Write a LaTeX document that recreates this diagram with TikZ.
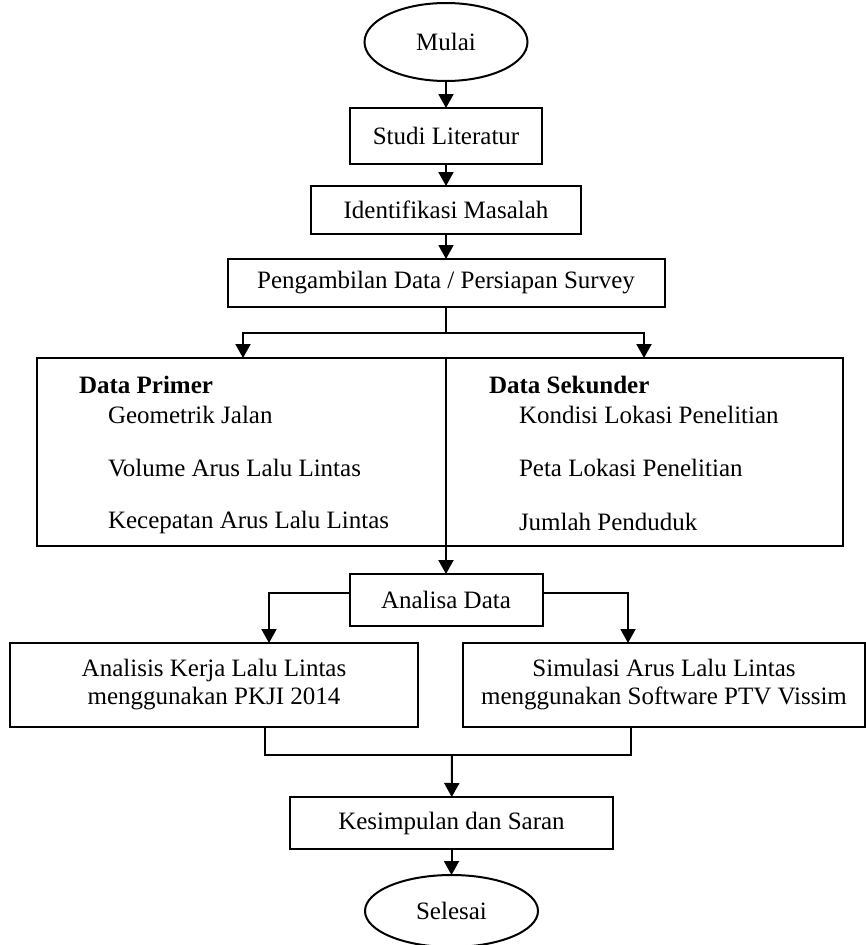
\documentclass[tikz,border=0pt]{standalone}
\usepackage{fontspec}
\setmainfont{Liberation Serif}
\usetikzlibrary{positioning,shapes.geometric,arrows.meta}

\begin{document}
\begin{tikzpicture}[
		x=1pt, y=-1pt,
		every node/.style = {
			font=\fontsize{25}{28}\selectfont,
			inner sep=0pt, outer sep=0pt
		},
		box/.style = {draw, rectangle, line width=2pt, align=center},
		term/.style = {draw, ellipse, line width=2pt},
		head/.style = {anchor=west, font=\fontsize{25}{28}\selectfont\bfseries},
		item/.style = {anchor=west},
		line/.style = {line width=2pt},
		arrow/.style = {line width=2pt, -{Triangle[width=15pt,length=14pt]}}
		]
		\useasboundingbox (0,0) rectangle (866,945);
		\node[term, minimum width=163pt, minimum height=78pt] (mulai) at (446,42) {Mulai};
		\node[box, minimum width=192pt, minimum height=56pt, below=27pt of mulai] (studi) {Studi Literatur};
		\node[box, minimum width=270pt, minimum height=48pt, below=22pt of studi] (ident) {Identifikasi Masalah};
		\node[box, minimum width=437pt, minimum height=48pt, below=25pt of ident] (ambil) {Pengambilan Data / Persiapan Survey};
		\node[box, minimum width=806pt, minimum height=188pt, below=51pt of ambil, xshift=-6pt] (data) {};
		\coordinate (mid) at (ambil.south |- data.south);
		\node[box, minimum width=193pt, minimum height=52pt, below=28pt of mid] (analisa) {Analisa Data};
		\node[box, minimum width=408pt, minimum height=84pt] (analisis) at (214,685) {Analisis Kerja Lalu Lintas\\menggunakan PKJI 2014};
		\node[box, minimum width=402pt, minimum height=84pt] (simulasi) at (664,685) {Simulasi Arus Lalu Lintas\\menggunakan Software PTV Vissim};
		\node[box, minimum width=323pt, minimum height=52pt] (kesim) at (451.5,823) {Kesimpulan dan Saran};
		\node[term, minimum width=173pt, minimum height=72pt, below=26pt of kesim] (selesai) {Selesai};

		% isi data
		\node[head] (primer) at (79,385) {Data Primer};
		\node[item] (geo) at (108,415) {Geometrik Jalan};
		\node[item] (vol) at (108,468) {Volume Arus Lalu Lintas};
		\node[item] (kec) at (108,522) {Kecepatan Arus Lalu Lintas};
		\node[head] (sekunder) at (489,385) {Data Sekunder};
		\node[item] (kondisi) at (519,415) {Kondisi Lokasi Penelitian};
		\node[item] (peta) at (519,468) {Peta Lokasi Penelitian};
		\node[item] (jumlah) at (519,522) {Jumlah Penduduk};

		\draw[arrow] (mulai) -- (studi);
		\draw[arrow] (studi) -- (ident);
		\draw[arrow] (ident) -- (ambil);
		\coordinate[below=26pt of ambil.south] (fork);
		\draw[line] (ambil.south) -- (fork);
		\draw[arrow] (fork) -| ([xshift=-197pt]data.north);
		\draw[arrow] (fork) -| ([xshift=204pt]data.north);
		\draw[arrow] (ambil.south |- data.north) -- (analisa.north);
		\draw[arrow] ([yshift=7pt]analisa.west) -| ([xshift=55pt]analisis.north);
		\draw[arrow] ([yshift=7pt]analisa.east) -| ([xshift=-36pt]simulasi.north);
		\coordinate (join) at (452,755);
		\draw[line] ([xshift=51pt]analisis.south) |- (join);
		\draw[line] ([xshift=-33pt]simulasi.south) |- (join);
		\draw[arrow] (join) -- (kesim);
		\draw[arrow] (kesim) -- (selesai);
	\end{tikzpicture}
\end{document}
